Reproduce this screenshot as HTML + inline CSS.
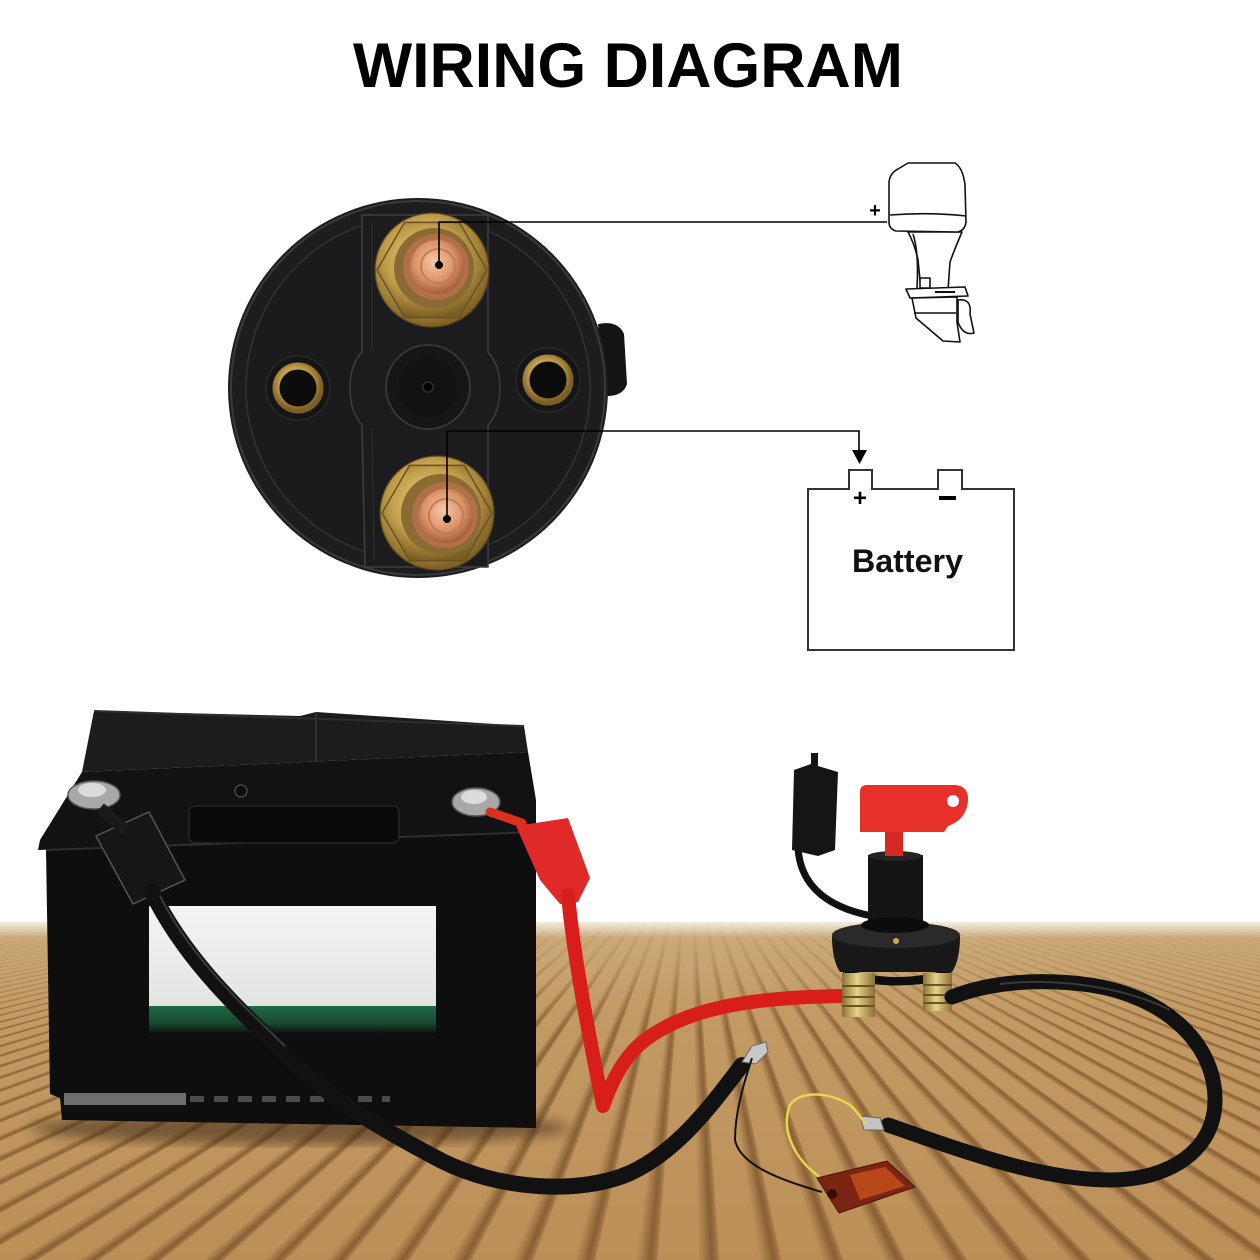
<!DOCTYPE html>
<html>
<head>
<meta charset="utf-8">
<style>
html,body{margin:0;padding:0;width:1260px;height:1260px;overflow:hidden;background:#ffffff;}
.wood{position:absolute;left:0;top:922px;width:1260px;height:338px;overflow:hidden;
 background:linear-gradient(180deg,#d6bd93 0px,#caa672 20px,#c39a64 90px,#bc8f58 338px);
 perspective:400px;perspective-origin:690px -82px;}
.floor{position:absolute;left:-3310px;top:338px;width:8000px;height:3000px;transform-origin:50% 0;
 transform:rotateX(-90deg);
 background:repeating-linear-gradient(90deg,rgba(0,0,0,0) 0px,rgba(0,0,0,0) 40px,rgba(120,78,35,.4) 48px,rgba(100,62,25,.6) 54px,rgba(120,78,35,.4) 60px,rgba(0,0,0,0) 62px);}
.haze{position:absolute;left:0;top:922px;width:1260px;height:110px;
 background:linear-gradient(180deg,rgba(204,172,124,.95) 0,rgba(200,166,116,.7) 35%,rgba(196,158,105,.3) 70%,rgba(196,158,105,0) 100%);}
.fade{position:absolute;left:0;top:914px;width:1260px;height:24px;
 background:linear-gradient(180deg,#fff 0,rgba(255,255,255,.65) 45%,rgba(255,255,255,0));}
svg{position:absolute;left:0;top:0;z-index:5;}
</style>
</head>
<body>
<div class="wood"><div class="floor"></div></div>
<div class="haze"></div>
<div class="fade"></div>
<svg width="1260" height="1260" viewBox="0 0 1260 1260" xmlns="http://www.w3.org/2000/svg">
<defs>
 <radialGradient id="brass" cx="45%" cy="40%" r="60%">
  <stop offset="0" stop-color="#f0dc8c"/><stop offset=".6" stop-color="#c2a04c"/><stop offset="1" stop-color="#7a5e24"/>
 </radialGradient>
 <radialGradient id="cu" cx="45%" cy="40%" r="60%">
  <stop offset="0" stop-color="#f6c8a8"/><stop offset=".6" stop-color="#dc9468"/><stop offset="1" stop-color="#a45e38"/>
 </radialGradient>
 <linearGradient id="gold" x1="0" x2="1" y1="0" y2="0">
  <stop offset="0" stop-color="#8a7034"/><stop offset=".45" stop-color="#e6d28a"/><stop offset="1" stop-color="#8a7034"/>
 </linearGradient>
 <linearGradient id="label" x1="0" x2="0" y1="0" y2="1">
  <stop offset="0" stop-color="#f4f4f4"/><stop offset="1" stop-color="#e2e4e2"/>
 </linearGradient>
 <linearGradient id="green" x1="0" x2="0" y1="0" y2="1">
  <stop offset="0" stop-color="#1f6a44"/><stop offset=".6" stop-color="#184a32"/><stop offset="1" stop-color="#0e0e0e"/>
 </linearGradient>
 <filter id="blur6"><feGaussianBlur stdDeviation="6"/></filter>
</defs>

<!-- Title -->
<text x="628" y="87" text-anchor="middle" textLength="550" lengthAdjust="spacingAndGlyphs" font-family="Liberation Sans, Arial, sans-serif" font-weight="bold" font-size="63" fill="#000">WIRING DIAGRAM</text>

<!-- ===== Round switch back ===== -->
<path d="M598 324 Q 618 320 624 334 L 627 384 Q 623 397 604 396 Z" fill="#141414"/>
<circle cx="418" cy="388" r="190" fill="#1d1d1f"/>
<circle cx="418" cy="388" r="187" fill="none" stroke="#3a3a3c" stroke-width="2"/>
<circle cx="418" cy="388" r="172" fill="#1b1b1d" stroke="#333335" stroke-width="1.5"/>
<path d="M362 215 L488 215 L488 352 Q 500 365 500 388 Q 500 412 488 425 L488 567 L365 567 L362 425 Q 350 412 350 388 Q 350 365 362 352 Z" fill="#1c1c1e" stroke="#3e3e40" stroke-width="1.5"/>
<path d="M372 222 L372 350 M372 428 L374 560" stroke="#2c2c2e" stroke-width="1.2" fill="none"/>
<circle cx="428" cy="387" r="42" fill="#161616" stroke="#363636" stroke-width="2"/>
<circle cx="428" cy="387" r="30" fill="#121212"/>
<circle cx="428" cy="387" r="5" fill="#000" stroke="#2e2e2e" stroke-width="1.5"/>
<circle cx="298" cy="388" r="32" fill="#151515" stroke="#2a2a2a" stroke-width="1.5"/>
<circle cx="298" cy="388" r="22" fill="#0c0c0c" stroke="url(#brass)" stroke-width="7"/>
<circle cx="548" cy="380" r="32" fill="#151515" stroke="#2a2a2a" stroke-width="1.5"/>
<circle cx="548" cy="380" r="22" fill="#0c0c0c" stroke="url(#brass)" stroke-width="7"/>
<!-- top nut -->
<circle cx="432" cy="270" r="57" fill="url(#brass)" stroke="#5a4518" stroke-width="1.2"/>
<polygon points="487,270 459.5,317.6 404.5,317.6 377,270 404.5,222.4 459.5,222.4" fill="url(#brass)" stroke="#6a5220" stroke-width="1.5"/>
<circle cx="434" cy="268" r="40" fill="#8c6a34"/>
<circle cx="436" cy="267" r="33" fill="#b07048"/>
<circle cx="437" cy="267" r="27" fill="url(#cu)"/>
<circle cx="438" cy="266" r="17" fill="none" stroke="#c47c52" stroke-width="2"/>
<!-- bottom nut -->
<circle cx="437" cy="513" r="57" fill="url(#brass)" stroke="#5a4518" stroke-width="1.2"/>
<polygon points="492,513 464.5,560.6 409.5,560.6 382,513 409.5,465.4 464.5,465.4" fill="url(#brass)" stroke="#6a5220" stroke-width="1.5"/>
<circle cx="441" cy="514" r="40" fill="#8c6a34"/>
<circle cx="445" cy="515" r="33" fill="#b07048"/>
<circle cx="446" cy="516" r="27" fill="url(#cu)"/>
<circle cx="446" cy="516" r="17" fill="none" stroke="#c47c52" stroke-width="2"/>

<!-- connector lines -->
<path d="M439 265 V222 H887" fill="none" stroke="#000" stroke-width="1.6"/>
<circle cx="439" cy="265" r="4" fill="#000"/>
<path d="M447 519 V431 H859 V452" fill="none" stroke="#000" stroke-width="1.6"/>
<circle cx="447" cy="519" r="4" fill="#000"/>
<polygon points="852,450 867,450 859.5,464" fill="#000"/>

<!-- ===== Outboard motor ===== -->
<g fill="#fff" stroke="#111" stroke-width="1.6" stroke-linejoin="round">
 <path d="M908 232 Q 915 245 918 260 L 921 290 L 948 290 L 950 262 Q 955 248 962 232 Z"/>
 <path d="M889 182 Q 890 173 898 169 L 908 163 L 955 163 Q 963 168 965 185 L 966 222 Q 965 230 958 232 L 896 231 Q 889 229 889 222 Z"/>
 <path d="M890 215 Q 930 212 966 216" fill="none"/>
 <path d="M913 234 Q 919 252 917 288" fill="none"/>
 <rect x="920" y="278" width="10" height="10"/>
 <path d="M958 300 Q 972 298 970 314 L 974 333 Q 963 336 958 322 Z"/>
 <path d="M912 298 L 957 297 L 957 322 L 960 342 L 943 341 L 916 318 Z"/>
 <path d="M914 313 L 956 313" fill="none"/>
 <path d="M906 289 L 965 287 L 968 296 L 910 298 Z"/>
 <path d="M935 292 L 955 292" fill="none" stroke-width="2"/>
</g>
<text x="875" y="217" text-anchor="middle" font-family="Liberation Sans, Arial, sans-serif" font-weight="bold" font-size="20" fill="#000">+</text>

<!-- ===== Battery schematic ===== -->
<path d="M808 489 H849 V470 H872 V489 H938 V470 H962 V489 H1014 V650 H808 Z" fill="#fff" stroke="#333" stroke-width="2"/>
<text x="860" y="506" text-anchor="middle" font-family="Liberation Sans, Arial, sans-serif" font-weight="bold" font-size="24" fill="#000">+</text>
<rect x="939" y="496" width="17" height="4" fill="#000"/>
<text x="852" y="572" textLength="111" lengthAdjust="spacingAndGlyphs" font-family="Liberation Sans, Arial, sans-serif" font-weight="bold" font-size="32" fill="#111">Battery</text>

<!-- ===== Photo: battery ===== -->
<ellipse cx="300" cy="1128" rx="270" ry="16" fill="#3a2714" opacity=".55" filter="url(#blur6)"/>
<path d="M94 711 L300 716 L316 712 L524 726 L528 752 L82 772 Z" fill="#1c1c1c"/>
<path d="M82 772 L528 752 L536 800 L536 835 L38 850 L40 840 Z" fill="#121212"/>
<path d="M46 850 L536 832 L536 1128 L62 1120 L60 1098 L50 1094 Z" fill="#0e0e0e"/>
<path d="M316 712 L316 762" stroke="#333" stroke-width="2"/>
<path d="M46 850 L536 832" stroke="#2e2e2e" stroke-width="2"/>
<rect x="189" y="806" width="210" height="37" rx="6" fill="#0a0a0a" stroke="#262626" stroke-width="1.5"/>
<circle cx="241" cy="791" r="6" fill="#0c0c0c" stroke="#444" stroke-width="1.5"/>
<path d="M94 711 L524 726" stroke="#2e2e2e" stroke-width="2"/>
<rect x="149" y="906" width="287" height="100" fill="url(#label)"/>
<rect x="149" y="1006" width="287" height="28" fill="url(#green)"/>
<rect x="64" y="1093" width="122" height="12" fill="#6e6e6e"/>
<path d="M190 1099 H390" stroke="#4a4a4a" stroke-width="6" stroke-dasharray="14 10"/>
<ellipse cx="94" cy="795" rx="26" ry="14" fill="#a8a8a8" stroke="#555" stroke-width="1.5"/>
<ellipse cx="92" cy="790" rx="14" ry="7" fill="#dcdcdc"/>
<ellipse cx="476" cy="802" rx="24" ry="14" fill="#a8a8a8" stroke="#555" stroke-width="1.5"/>
<ellipse cx="474" cy="797" rx="13" ry="7" fill="#dcdcdc"/>
<path d="M96 836 L149 812 L185 880 L133 904 Z" fill="#161616" stroke="#555" stroke-width="1.5"/>
<path d="M100 808 L125 830" stroke="#1a1a1a" stroke-width="12"/>
<path d="M152 892 C 185 960, 240 1010, 281 1050 C 320 1090, 360 1118, 442 1161 C 500 1190, 580 1195, 630 1173 C 680 1150, 715 1100, 742 1065" fill="none" stroke="#111" stroke-width="16" stroke-linecap="round"/>
<path d="M160 896 C 192 960, 246 1008, 285 1046" fill="none" stroke="#3a3a3a" stroke-width="2"/>
<path d="M742 1062 L752 1046 L766 1042 L768 1052 L756 1064 Z" fill="#c8c8c8" stroke="#666" stroke-width="1"/>
<path d="M490 812 L522 823" stroke="#d8321e" stroke-width="9" stroke-linecap="round"/>
<path d="M516 826 L568 818 L590 878 L578 902 L560 904 L540 880 Z" fill="#e02a28"/>
<path d="M568 895 C 574 960, 590 1040, 603 1106 C 612 1080, 625 1055, 645 1040 C 685 1010, 745 997, 845 996" fill="none" stroke="#d81e1a" stroke-width="14" stroke-linecap="round" stroke-linejoin="round"/>

<!-- ===== Photo: switch ===== -->
<path d="M798 848 C 800 880, 820 906, 872 916" fill="none" stroke="#111" stroke-width="7" stroke-linecap="round"/>
<path d="M811 753 L818 753 L818 766 L838 772 L835 850 L818 856 L792 850 L794 770 L811 764 Z" fill="#151515"/>
<path d="M842 968 Q 896 986 952 968 L 950 979 Q 896 992 845 979 Z" fill="#0e0e0e"/>
<path d="M832 936 Q 832 960 840 972 L 952 972 Q 960 960 960 936 Z" fill="#181818"/>
<ellipse cx="896" cy="935" rx="64" ry="13" fill="#2a2a2a"/>
<rect x="868" y="855" width="55" height="72" fill="#141414"/>
<ellipse cx="895" cy="925" rx="34" ry="8" fill="#0c0c0c"/>
<circle cx="896" cy="941" r="3" fill="#c8a850"/>
<ellipse cx="895" cy="856" rx="27" ry="5" fill="#242424"/>
<rect x="885" y="830" width="18" height="26" fill="#d42820"/>
<path d="M860 792 Q 860 785 867 785 L 955 785 Q 969 786 968 801 Q 966 820 948 826 L 944 832 L 860 832 Z" fill="#e8302a"/>
<circle cx="953" cy="801" r="6" fill="#fff"/>
<rect x="842" y="973" width="33" height="44" fill="url(#gold)"/>
<path d="M842 986 H875 M842 997 H875 M842 1006 H875" stroke="#6a5420" stroke-width="2"/>
<rect x="923" y="973" width="29" height="38" fill="url(#gold)"/>
<path d="M923 985 H952 M923 995 H952 M923 1003 H952" stroke="#6a5420" stroke-width="2"/>
<path d="M952 997 C 990 982, 1040 978, 1090 985 C 1160 995, 1215 1040, 1215 1100 C 1215 1150, 1170 1180, 1110 1180 C 1040 1180, 960 1150, 888 1125" fill="none" stroke="#111" stroke-width="15" stroke-linecap="round"/>
<path d="M1000 984 C 1050 978, 1120 985, 1170 1010" fill="none" stroke="#3a3a3a" stroke-width="2"/>
<path d="M860 1116 L880 1118 L884 1130 L864 1130 Z" fill="#c4c4c4" stroke="#666" stroke-width="1"/>
<path d="M820 1177 C 795 1160, 780 1130, 790 1105 C 800 1090, 830 1092, 850 1105 C 858 1112, 862 1120, 866 1124" fill="none" stroke="#e6d64e" stroke-width="2.5"/>
<path d="M822 1192 C 780 1180, 740 1165, 735 1140 C 735 1110, 745 1080, 752 1058" fill="none" stroke="#111" stroke-width="2"/>
<path d="M817 1178 L887 1161 L915 1187 L839 1213 Z" fill="#7a2412" stroke="#4a1408" stroke-width="1"/>
<path d="M850 1175 L885 1167 L905 1186 L860 1200 Z" fill="#c8501c" opacity=".8"/>
<circle cx="832" cy="1194" r="5" fill="#3a0c04"/>
</svg>
</body>
</html>
